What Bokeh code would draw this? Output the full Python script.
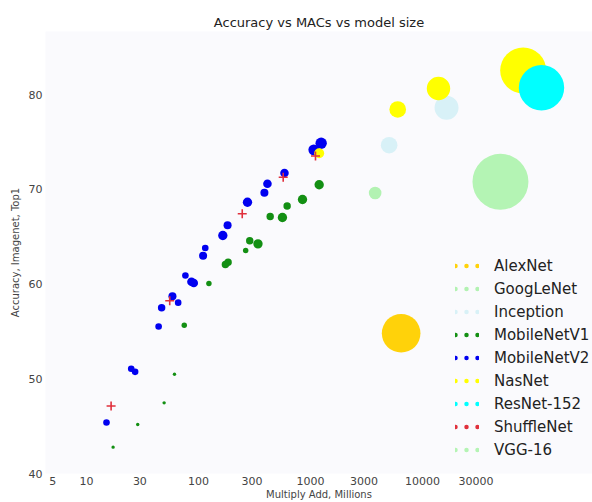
import math
from bokeh.plotting import figure
from bokeh.models import (ColumnDataSource, Legend, LegendItem, FixedTicker,
                          NumeralTickFormatter, Range1d)
from bokeh.embed import file_html
from bokeh.resources import INLINE

# ---------------- data ----------------
series_names = ["AlexNet", "GoogLeNet", "Inception", "MobileNetV1", "MobileNetV2",
                "NasNet", "ResNet-152", "ShuffleNet", "VGG-16"]

alexnet_macs = [6450]
alexnet_acc = [54.8]
alexnet_params = [64.7]

googlenet_macs = [3780]
googlenet_acc = [69.6]
googlenet_params = [6.9]

inception_macs = [16400, 5040]
inception_acc = [78.6, 74.65]
inception_params = [25.0, 12.0]

mobilenetv1_macs = [1196, 849, 619, 562, 437, 340, 287, 264, 184, 174, 124, 74.7, 61.1, 49.4, 28.7, 17.3]
mobilenetv1_acc = [70.47, 68.92, 68.23, 67.02, 67.12, 64.24, 64.56, 63.54, 62.29, 62.06, 60.05, 55.65, 50.48, 47.46, 45.17, 42.78]
mobilenetv1_params = [3.8, 3.8, 2.4, 3.8, 2.4, 3.8, 2.4, 1.3, 2.4, 2.4, 1.3, 1.3, 0.5, 0.5, 0.5, 0.5]

mobilenetv2_macs = [1246, 1070, 586, 413, 388, 274, 182, 165, 115, 110, 76.5, 86.6, 90.8, 58.6, 65.9, 46.9, 44.1, 25.1, 27.2, 15.1]
mobilenetv2_acc = [74.86, 74.16, 71.72, 70.58, 69.63, 68.63, 66.21, 65.12, 63.80, 62.98, 60.90, 60.23, 60.11, 58.71, 58.03, 57.50, 55.51, 51.05, 50.73, 45.38]
mobilenetv2_params = [5.6, 5.0, 3.2, 3.2, 2.8, 3.8, 2.8, 3.8, 1.9, 2.8, 1.9, 3.2, 3.2, 2.8, 1.9, 2.4, 1.9, 1.9, 1.9, 1.9]

nasnet_macs = [79300, 13900, 6010, 1196]
nasnet_acc = [82.53, 80.63, 78.42, 73.80]
nasnet_params = [92.0, 23.8, 12.0, 4.3]

resnet152_macs = [115500]
resnet152_acc = [80.71]
resnet152_params = [89.5]

shufflenet_macs = [1109, 571, 246, 55.4, 16.6]
shufflenet_acc = [73.51, 71.27, 67.41, 58.24, 47.12]
shufflenet_params = [3.0, 3.0, 3.0, 3.0, 3.0]

vgg16_macs = [49700]
vgg16_acc = [70.79]
vgg16_params = [136.0]

x_ticks = [5, 10, 30, 100, 300, 1000, 3000, 10000, 30000]
y_ticks = [40, 50, 60, 70, 80]

# ---------------- styles ----------------
series_colors = {
    "AlexNet": "#ffd20a",
    "GoogLeNet": "#b2f2b2",
    "Inception": "#d8f1f7",
    "MobileNetV1": "#138f13",
    "MobileNetV2": "#0000f0",
    "NasNet": "#ffff00",
    "ResNet-152": "#00ffff",
    "ShuffleNet": "#e0303c",
    "VGG-16": "#b4f4b4",
}

series_data = {
    "AlexNet": (alexnet_macs, alexnet_acc, alexnet_params),
    "GoogLeNet": (googlenet_macs, googlenet_acc, googlenet_params),
    "Inception": (inception_macs, inception_acc, inception_params),
    "MobileNetV1": (mobilenetv1_macs, mobilenetv1_acc, mobilenetv1_params),
    "MobileNetV2": (mobilenetv2_macs, mobilenetv2_acc, mobilenetv2_params),
    "NasNet": (nasnet_macs, nasnet_acc, nasnet_params),
    "ResNet-152": (resnet152_macs, resnet152_acc, resnet152_params),
    "ShuffleNet": (shufflenet_macs, shufflenet_acc, shufflenet_params),
    "VGG-16": (vgg16_macs, vgg16_acc, vgg16_params),
}

FONT = "DejaVu Sans"
SIZE_K = 4.8  # marker diameter = SIZE_K * sqrt(params in millions)

p = figure(width=592, height=502, x_axis_type="log",
           x_range=Range1d(4.31, 329600), y_range=Range1d(40, 86.65),
           output_backend="svg", toolbar_location=None,
           title="Accuracy vs MACs vs model size",
           min_border_left=45, min_border_right=0,
           min_border_top=31, min_border_bottom=29)

p.background_fill_color = "#fafafd"
p.border_fill_color = "white"
p.outline_line_color = None
p.xgrid.visible = False
p.ygrid.visible = False

p.title.text_font = FONT
p.title.text_font_size = "13px"
p.title.text_font_style = "normal"
p.title.text_color = "#222222"
p.title.align = "center"
p.title.standoff = 4

for ax in (p.xaxis[0], p.yaxis[0]):
    ax.axis_line_color = None
    ax.major_tick_line_color = None
    ax.minor_tick_line_color = None
    ax.major_tick_out = 0
    ax.major_tick_in = 0
    ax.minor_tick_out = 0
    ax.major_label_text_font = FONT
    ax.major_label_text_font_size = "11px"
    ax.major_label_text_color = "#444444"
    ax.axis_label_text_font = FONT
    ax.axis_label_text_font_size = "10px"
    ax.axis_label_text_font_style = "normal"
    ax.axis_label_text_color = "#444444"

p.xaxis.ticker = FixedTicker(ticks=x_ticks)
p.xaxis.formatter = NumeralTickFormatter(format="0")
p.xaxis.axis_label = "Multiply Add, Millions"
p.xaxis.major_label_standoff = 3
p.xaxis.axis_label_standoff = 1

p.yaxis.ticker = FixedTicker(ticks=y_ticks)
p.yaxis.axis_label = "Accuracy, Imagenet, Top1"
p.yaxis.major_label_standoff = 3
p.yaxis.axis_label_standoff = 5

legend_items = []
for name in series_names:
    macs, acc, params = series_data[name]
    src = ColumnDataSource(dict(x=macs, y=acc,
                                size=[SIZE_K * math.sqrt(v) for v in params]))
    col = series_colors[name]
    if name == "ShuffleNet":
        p.scatter("x", "y", size=9, source=src, marker="cross",
                  line_color=col, line_width=1.6)
    else:
        p.scatter("x", "y", size="size", source=src, marker="circle",
                  fill_color=col, line_color=None)
    # one-point line: draws nothing in the plot, gives a dotted legend swatch
    key = p.line(x=macs[:1], y=acc[:1], line_color=col, line_width=4.5,
                 line_dash="0 11", line_cap="round")
    legend_items.append(LegendItem(label=name, renderers=[key]))

legend = Legend(items=legend_items, location=(410, 12),
                glyph_width=24, glyph_height=23, label_height=23,
                spacing=0, padding=0, margin=0, label_standoff=15,
                label_text_font=FONT, label_text_font_size="15px",
                label_text_color="#222222",
                border_line_color=None, background_fill_alpha=0)
p.add_layout(legend, "center")

open("out.html", "w").write(file_html(p, INLINE))
